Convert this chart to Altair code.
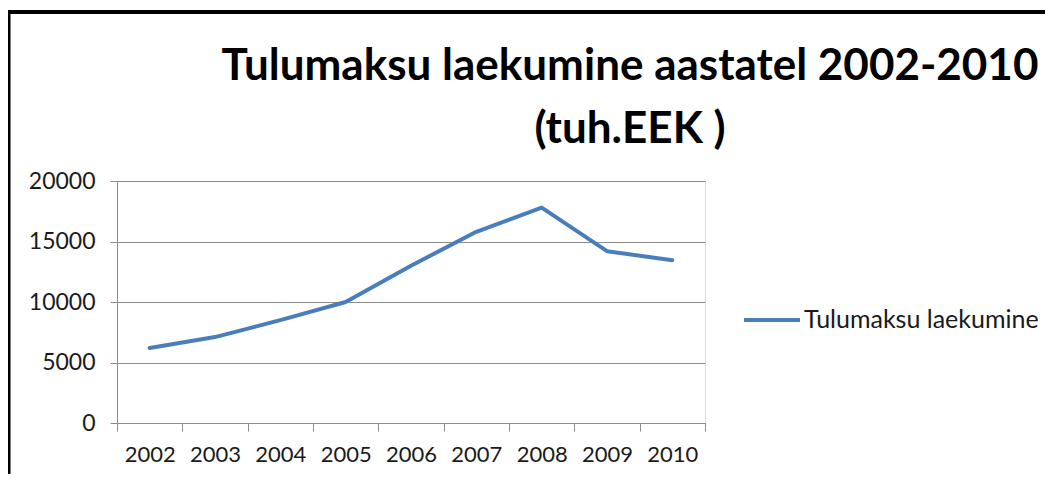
import altair as alt
import pandas as pd

years = ["2002", "2003", "2004", "2005", "2006", "2007", "2008", "2009", "2010"]
values = [6200, 7100, 8500, 10000, 13000, 15800, 17800, 14200, 13450]
series_name = "Tulumaksu laekumine"
title_line1 = "Tulumaksu laekumine aastatel 2002-2010"
title_line2 = "(tuh.EEK )"
y_ticks = [0, 5000, 10000, 15000, 20000]

df = pd.DataFrame({"year": years, "value": values, "series": series_name})
one = pd.DataFrame({"k": [0]})

FONT = "Lato"
BLUE = "#4a7dbb"
GRID = "#8c8c8c"

line = alt.Chart(df).mark_line(strokeWidth=4, strokeCap="round", strokeJoin="round").encode(
    x=alt.X(
        "year:O",
        bandPosition=0.5,
        scale=alt.Scale(type="band", paddingInner=0, paddingOuter=0),
        axis=alt.Axis(
            title=None, labelAngle=0, tickBand="extent", tickSize=8,
            tickColor=GRID, domainColor=GRID, labelFont=FONT, labelFontSize=22,
            labelColor="#1a1a1a", labelPadding=13, grid=False,
        ),
    ),
    y=alt.Y(
        "value:Q",
        scale=alt.Scale(domain=[0, 20000], nice=False),
        axis=alt.Axis(
            title=None, values=y_ticks, format="d", tickSize=7, tickColor=GRID,
            domainColor=GRID, gridColor=GRID, labelFont=FONT, labelFontSize=23,
            labelColor="#1a1a1a", labelPadding=15,
        ),
    ),
    color=alt.Color(
        "series:N",
        scale=alt.Scale(range=[BLUE]),
        legend=alt.Legend(
            title=None, orient="none", legendX=625, legendY=109,
            symbolType="stroke", symbolSize=3136, symbolStrokeWidth=4,
            labelFont=FONT, labelFontSize=25, labelColor="#1a1a1a",
            labelOffset=2, padding=0, labelLimit=0,
        ),
    ),
)

border = alt.Chart(one).mark_rule(color="#000000", strokeWidth=4).encode(
    x=alt.value(-108.5), x2=alt.value(-108.5), y=alt.value(-169), y2=alt.value(300)
)
border_top = alt.Chart(one).mark_rule(color="#000000", strokeWidth=4).encode(
    x=alt.value(-110.5), x2=alt.value(950), y=alt.value(-169), y2=alt.value(-169)
)

t1 = alt.Chart(one).mark_text(
    text=title_line1, font=FONT, fontSize=44, fontWeight="bold", color="#000000",
    align="center", baseline="alphabetic",
).encode(x=alt.value(513), y=alt.value(-101))
t2 = alt.Chart(one).mark_text(
    text=title_line2, font=FONT, fontSize=44, fontWeight="bold", color="#000000",
    align="center", baseline="alphabetic",
).encode(x=alt.value(513), y=alt.value(-38))

chart = alt.layer(border, border_top, t1, t2, line).properties(
    width=588,
    height=242,
    autosize=alt.AutoSizeParams(type="none"),
    padding={"left": 109, "top": 173, "right": 340, "bottom": 51},
).configure_view(stroke=None).configure(background="white")

chart.save("out.html", embed_options={"renderer": "svg", "actions": False})
